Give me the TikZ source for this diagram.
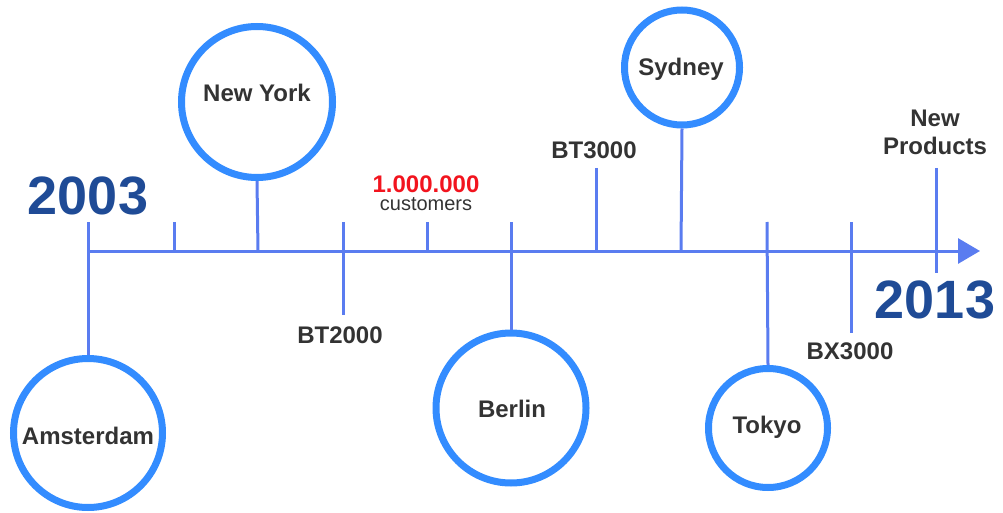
\documentclass[tikz,border=0pt]{standalone}
\usepackage{fontspec}
\setmainfont{Liberation Sans}
\usetikzlibrary{arrows.meta}
\definecolor{axisblue}{HTML}{5A7CF0}
\definecolor{ringblue}{HTML}{338CFF}
\definecolor{yearblue}{HTML}{1F4B96}
\definecolor{txtgray}{HTML}{333333}
\definecolor{redtxt}{HTML}{F2141E}
\tikzset{
  axisline/.style={draw=axisblue, line width=3pt},
  city/.style={circle, draw=ringblue, line width=7pt, fill=white, inner sep=0pt},
  lbl/.style={font=\bfseries\fontsize{24}{28}\selectfont, text=txtgray, inner sep=0pt, anchor=base},
  yearlbl/.style={font=\bfseries\fontsize{54}{60}\selectfont, text=yearblue, inner sep=0pt, anchor=base},
}
\begin{document}
\begin{tikzpicture}[x=1pt, y=-1pt]
\useasboundingbox (0,0) rectangle (1003,513);
% axis
\coordinate (start) at (88,251);
\coordinate (end) at (980,251);
\draw[axisline, -{Triangle[length=22pt,width=25pt]}] (start) -- (end);
% tick coordinates
\coordinate (t1a) at (88,222);
\coordinate (t2a) at (174,222);  \coordinate (t2b) at (174,251);
\coordinate (t3b) at (258,251);
\coordinate (t4a) at (343,222);  \coordinate (t4b) at (343,315);
\coordinate (t5a) at (427,222);  \coordinate (t5b) at (427,251);
\coordinate (t6a) at (511,222);
\coordinate (t7a) at (596,168);  \coordinate (t7b) at (596,251);
\coordinate (t8b) at (681,251);
\coordinate (t9a) at (767,222);
\coordinate (t10a) at (851,222); \coordinate (t10b) at (851,333);
\coordinate (t11a) at (936,168); \coordinate (t11b) at (936,273);
% circles
\node[city, minimum size=149pt] (ams) at (88,433) {};
\node[city, minimum size=151pt] (ny) at (257,102) {};
\node[city, minimum size=150pt] (ber) at (511,408) {};
\node[city, minimum size=115pt] (syd) at (682,67.5) {};
\node[city, minimum size=119pt] (tok) at (768,428) {};
% ticks
\draw[axisline] (t1a) -- (ams.north);
\draw[axisline] (t2a) -- (t2b);
\draw[axisline] (ny.south) -- (t3b);
\draw[axisline] (t4a) -- (t4b);
\draw[axisline] (t5a) -- (t5b);
\draw[axisline] (t6a) -- (ber.north);
\draw[axisline] (t7a) -- (t7b);
\draw[axisline] (syd.south) -- (t8b);
\draw[axisline] (t9a) -- (tok.north);
\draw[axisline] (t10a) -- (t10b);
\draw[axisline] (t11a) -- (t11b);
% city labels
\node[lbl] (amsl) at (88,444) {Amsterdam};
\node[lbl] (nyl) at (257,102) {New York};
\node[lbl] (berl) at (512,417) {Berlin};
\node[lbl] (sydl) at (681,76) {Sydney};
\node[lbl] (tokl) at (767,433) {Tokyo};
% other labels
\node[lbl] (bt2) at (340,343) {BT2000};
\node[lbl] (bt3) at (594,159) {BT3000};
\node[lbl] (bx3) at (850,359) {BX3000};
\node[lbl] (np1) at (935,127) {New};
\node[lbl] (np2) at (935,155) {Products};
\node[lbl, text=redtxt] (mil) at (426,193) {1.000.000};
\node[inner sep=0pt, anchor=base, text=txtgray, font=\fontsize{20}{22}\selectfont] (cust) at (426,211) {customers};
% years
\node[yearlbl] (y1) at (88,214) {2003};
\node[yearlbl] (y2) at (935,318) {2013};
\end{tikzpicture}
\end{document}
